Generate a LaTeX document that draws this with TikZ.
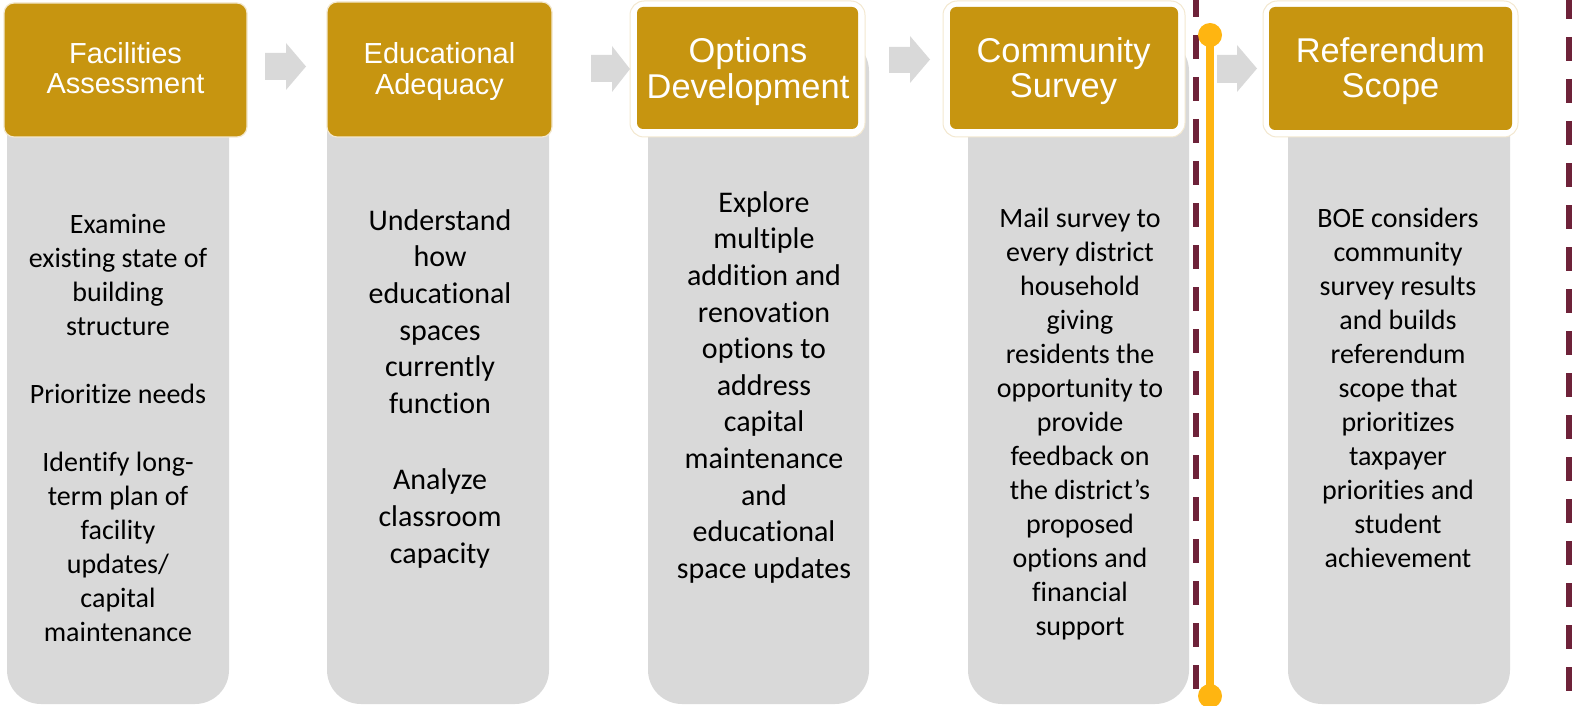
\documentclass[tikz,border=0pt]{standalone}
\usepackage{fontspec}
\setmainfont{Carlito}[Ligatures={NoCommon}]
\newfontfamily\headfont{Liberation Sans}
\definecolor{gold}{HTML}{C79510}
\definecolor{bodygray}{HTML}{D9D9D9}
\definecolor{maroonline}{HTML}{6E2239}
\definecolor{amberline}{HTML}{FFB511}
\definecolor{creamline}{HTML}{F3E8D0}
\begin{document}
\begin{tikzpicture}[x=1pt,y=-1pt,
  bodybox/.style={fill=bodygray, draw=none, rounded corners=34pt},
  headplain/.style={fill=gold, draw=creamline, line width=1.2pt, rounded corners=10pt, inner sep=0pt},
  headouter/.style={fill=white, draw=creamline, line width=1pt, rounded corners=14pt, inner sep=0pt},
  headinner/.style={fill=gold, draw=none, rounded corners=6pt, inner sep=0pt},
  blockarrow/.style={fill=bodygray, draw=none},
  headsmall/.style={text=white, align=center, anchor=north, inner sep=0pt, font=\headfont\fontsize{29}{30}\selectfont},
  headbig/.style={text=white, align=center, anchor=north, inner sep=0pt, font=\headfont\fontsize{34.4}{35.5}\selectfont},
  bodytext/.style={text=black, align=center, anchor=north, inner sep=0pt, font=\fontsize{28}{34}\selectfont},
  bodybig/.style={text=black, align=center, anchor=north, inner sep=0pt, font=\fontsize{30}{36.6}\selectfont},
  dashline/.style={maroonline, line width=6pt, dash pattern=on 24pt off 18pt},
  ambline/.style={amberline, line width=8pt}
]
\useasboundingbox (0,0) rectangle (1574,706);

% gray bodies
\path[bodybox] (7,60) rectangle (229,704);
\path[bodybox] (327,60) rectangle (549,704);
\path[bodybox] (648,37) rectangle (869,704);
\path[bodybox] (968,37) rectangle (1189,704);
\path[bodybox] (1288,37) rectangle (1510,704);

% headers
\node[headplain, minimum width=243pt, minimum height=134pt] (h1) at (125.5,70) {};
\node[headplain, minimum width=225pt, minimum height=135pt] (h2) at (439.5,69.5) {};
\node[headouter, minimum width=235pt, minimum height=136pt] (o3) at (747.5,69) {};
\node[headinner, minimum width=221pt, minimum height=122pt] (h3) at (747.5,68) {};
\node[headouter, minimum width=242pt, minimum height=136pt] (o4) at (1064,69) {};
\node[headinner, minimum width=228pt, minimum height=122pt] (h4) at (1064,68) {};
\node[headouter, minimum width=255pt, minimum height=136pt] (o5) at (1390.5,69) {};
\node[headinner, minimum width=243pt, minimum height=123pt] (h5) at (1390.5,68.5) {};

% header texts
\node[headsmall] (t1) at (125.5,42) {\strut Facilities\\Assessment};
\node[headsmall] (t2) at (439.5,42) {\strut Educational\\Adequacy};
\node[headbig] (t3) at (748,37) {\strut Options\\Development};
\node[headbig] (t4) at (1063.5,37) {\strut Community\\Survey};
\node[headbig] (t5) at (1390.5,37) {\strut Referendum\\Scope};

% block arrows
\fill[blockarrow] (265,53) -- (286,53) -- (286,43) -- (306,66.5) -- (286,90) -- (286,80) -- (265,80) -- cycle;
\fill[blockarrow] (591,55) -- (612,55) -- (612,46) -- (630,69) -- (612,92) -- (612,82) -- (591,82) -- cycle;
\fill[blockarrow] (889,47) -- (910,47) -- (910,36) -- (930,59.5) -- (910,83) -- (910,73) -- (889,73) -- cycle;
\fill[blockarrow] (1217,55) -- (1237,55) -- (1237,45) -- (1257,68.5) -- (1237,92) -- (1237,83) -- (1217,83) -- cycle;

% body texts
\node[bodytext] (x1) at (118,209.2) {\strut Examine\\existing state of\\building\\structure\\[34pt]Prioritize needs\\[34pt]Identify long-\\term plan of\\facility\\updates/\\capital\\maintenance};
\node[bodybig] (x2) at (440,204.4) {\strut Understand\\how\\educational\\spaces\\currently\\function\\[40pt]Analyze\\classroom\\capacity};
\node[bodybig] (x3) at (764,186.4) {\strut Explore\\multiple\\addition and\\renovation\\options to\\address\\capital\\maintenance\\and\\educational\\space updates};
\node[bodytext] (x4) at (1080,203.2) {\strut Mail survey to\\every district\\household\\giving\\residents the\\opportunity to\\provide\\feedback on\\the district’s\\proposed\\options and\\financial\\support};
\node[bodytext] (x5) at (1398,203.2) {\strut BOE considers\\community\\survey results\\and builds\\referendum\\scope that\\prioritizes\\taxpayer\\priorities and\\student\\achievement};

% dashed separators
\coordinate (dA1) at (1196,-7);
\coordinate (dA2) at (1196,706);
\coordinate (dB1) at (1569,-5);
\coordinate (dB2) at (1569,706);
\draw[dashline] (dA1) -- (dA2);
\draw[dashline] (dB1) -- (dB2);

% amber marker line
\coordinate (ytop) at (1210,35);
\coordinate (ybot) at (1210,696);
\draw[ambline] (ytop) -- (ybot);
\fill[amberline] (ytop) circle (12pt);
\fill[amberline] (ybot) circle (12pt);
\end{tikzpicture}
\end{document}
